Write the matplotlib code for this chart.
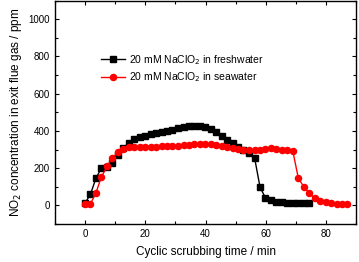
import matplotlib
matplotlib.use("Agg")
import matplotlib.pyplot as plt
from matplotlib.ticker import MultipleLocator

plt.rcParams['font.family'] = ['Liberation Sans', 'DejaVu Sans']

time_fresh = [0.0, 1.8, 3.6, 5.4, 7.3, 9.1, 10.9, 12.7, 14.5, 16.3,
              18.2, 20.0, 21.8, 23.6, 25.4, 27.2, 29.0, 30.9, 32.7, 34.5,
              36.3, 38.1, 39.9, 41.7, 43.6, 45.4, 47.2, 49.0, 50.8, 52.6,
              54.5, 56.3, 58.1, 59.9, 61.7, 63.5, 65.3, 67.2, 69.0, 70.8,
              72.6, 74.4]
no2_fresh = [12, 60, 145, 200, 207, 227, 268, 308, 335, 355,
             366, 374, 381, 387, 393, 399, 406, 413, 419, 424,
             426, 425, 420, 410, 392, 374, 352, 334, 316, 299,
             281, 254, 98, 40, 27, 20, 16, 13, 12, 11,
             11, 11]

time_sea = [0.0, 1.8, 3.6, 5.4, 7.3, 9.1, 10.9, 12.7, 14.5, 16.3,
            18.2, 20.0, 21.8, 23.6, 25.4, 27.2, 29.0, 30.9, 32.7, 34.5,
            36.3, 38.1, 39.9, 41.7, 43.6, 45.4, 47.2, 49.0, 50.8, 52.6,
            54.5, 56.3, 58.1, 59.9, 61.7, 63.5, 65.3, 67.2, 69.0, 70.8,
            72.6, 74.4, 76.2, 78.0, 79.9, 81.7, 83.5, 85.3, 87.1]
no2_sea = [9, 9, 66, 152, 209, 256, 286, 302, 311, 314,
           316, 316, 316, 316, 317, 318, 319, 321, 323, 326,
           329, 331, 331, 328, 325, 320, 314, 308, 303, 298,
           295, 295, 300, 304, 306, 304, 300, 296, 290, 147,
           100, 66, 40, 26, 17, 12, 10, 9, 9]

label_fresh = r'20 mM NaClO$_2$ in freshwater'
label_sea = r'20 mM NaClO$_2$ in seawater'

fig = plt.figure(figsize=(3.59, 2.62), dpi=100)
ax = fig.add_axes([0.153, 0.145, 0.839, 0.853])

ax.plot(time_fresh, no2_fresh, '-s', color='black', lw=1.0, ms=3.8,
        label=label_fresh)
ax.plot(time_sea, no2_sea, '-o', color='red', mec='red', mfc='red', lw=1.0, ms=4.4,
        label=label_sea)

ax.set_xlim(-10, 90)
ax.set_ylim(-100, 1100)
ax.xaxis.set_major_locator(MultipleLocator(20))
ax.xaxis.set_minor_locator(MultipleLocator(10))
ax.yaxis.set_major_locator(MultipleLocator(200))
ax.yaxis.set_minor_locator(MultipleLocator(100))
ax.tick_params(which='both', direction='in', top=True, right=True,
               labelsize=7, width=0.8)
ax.tick_params(which='major', length=3)
ax.tick_params(which='minor', length=2)
for s in ax.spines.values():
    s.set_linewidth(1.0)

ax.set_xlabel('Cyclic scrubbing time / min', fontsize=8.5, labelpad=5)
ax.set_ylabel(r'NO$_2$ concentration in exit flue gas / ppm', fontsize=8.5, labelpad=3)

ax.legend(loc='upper left', bbox_to_anchor=(0.14, 0.785), frameon=False,
          fontsize=7.5, handlelength=2.3, handletextpad=0.4, labelspacing=0.35,
          borderaxespad=0)

fig.savefig('out.png', dpi=100)
